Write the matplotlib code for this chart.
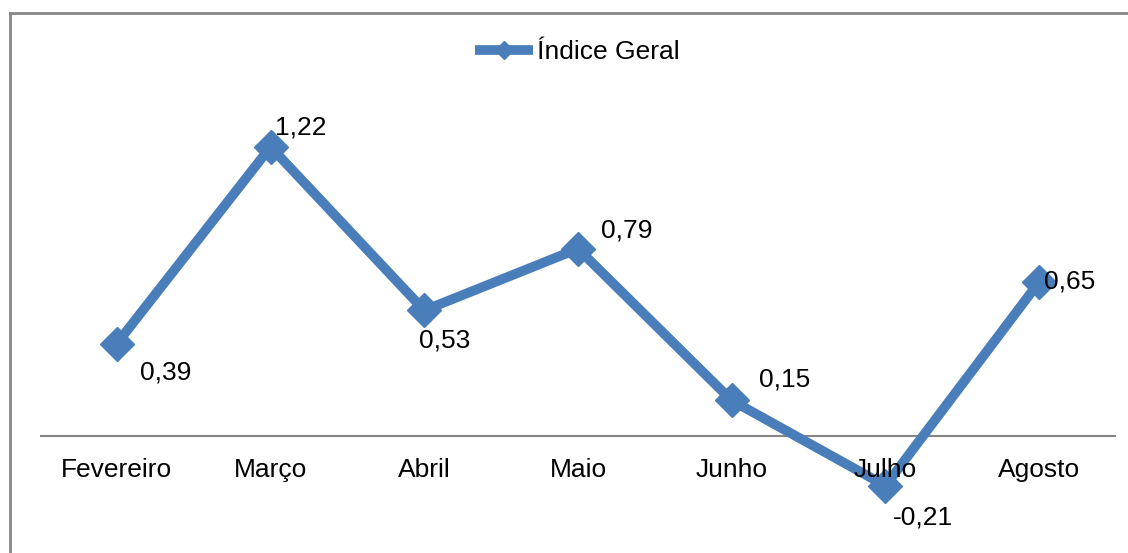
import matplotlib.pyplot as plt
from matplotlib.lines import Line2D

# data
months = ['Fevereiro', 'Março', 'Abril', 'Maio', 'Junho', 'Julho', 'Agosto']
values = [0.39, 1.22, 0.53, 0.79, 0.15, -0.21, 0.65]
# label offsets in points (dx, dy) relative to each marker
offsets = [(35, -21), (22, 14), (15, -22), (35, 13), (38, 15), (27, -23), (22, 0)]

plt.rcParams['font.family'] = ['Liberation Sans', 'DejaVu Sans']

W, H = 1128, 553
fig = plt.figure(figsize=(W / 100, H / 100), dpi=100)

# axes placed in pixels: x 40..1116, y=0 at 436px, 237 px per unit
ymin, ymax = -0.4, 1.4
ppu = 237.0
top_px = 436 - ymax * ppu
bot_px = 436 - ymin * ppu
ax = fig.add_axes([40 / W, 1 - bot_px / H, 1076 / W, (bot_px - top_px) / H])
ax.set_xlim(-0.5, len(months) - 0.5)
ax.set_ylim(ymin, ymax)
ax.axis('off')

ax.axhline(0, color='#868686', lw=1.5, zorder=1)

color = '#4A7EBB'
ax.plot(range(len(months)), values, color=color, lw=7, marker='D', ms=17,
        solid_joinstyle='miter', solid_capstyle='butt', zorder=3,
        label='Índice Geral')

fs = 19
for i, (v, (dx, dy)) in enumerate(zip(values, offsets)):
    ax.annotate(f'{v:.2f}'.replace('.', ','), (i, v), xytext=(dx, dy),
                textcoords='offset points', ha='center', va='center',
                fontsize=fs, color='black', zorder=4)

# category labels sit on top of the line (Julho overlaps it)
for i, m in enumerate(months):
    ax.text(i, -34 / ppu, m, ha='center', va='center',
            fontsize=fs, color='black', zorder=5)

leg = ax.legend(loc='center', bbox_to_anchor=(577 / W, 1 - 52 / H),
                bbox_transform=fig.transFigure, frameon=False, fontsize=fs,
                handlelength=2.2, handletextpad=0.15, markerscale=0.55)

# chart border (top and left visible, runs off the right and bottom)
fig.add_artist(Line2D([10 / W, 10 / W], [0, 1 - 13 / H], transform=fig.transFigure,
                      color='#868686', lw=2))
fig.add_artist(Line2D([10 / W, 1], [1 - 13 / H, 1 - 13 / H], transform=fig.transFigure,
                      color='#868686', lw=2))

fig.savefig('out.png', dpi=100)
